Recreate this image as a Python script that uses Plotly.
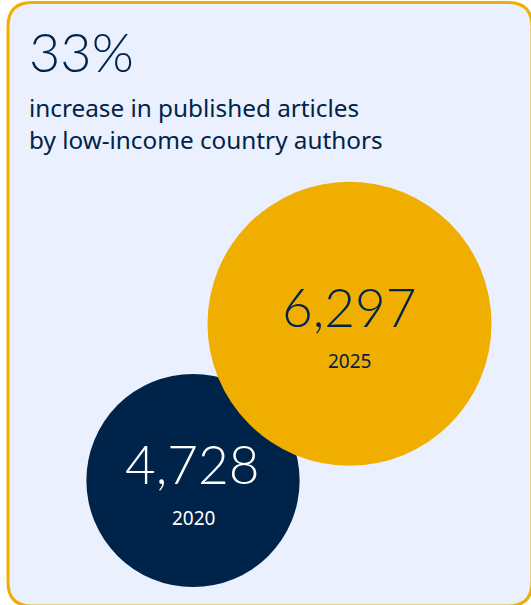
import plotly.graph_objects as go

# Data
years = ["2020", "2025"]
articles = [4728, 6297]
headline = "33%"
subtitle = "increase in published articles<br>by low-income country authors"

# Layout positions (pixels)
W, H = 531, 605
centers_x = [193, 349.5]
centers_y = [480.5, 323.7]
max_diameter = 284

navy = "#00234A"
yellow = "#F0AE00"
card_bg = "#EAF0FD"

fig = go.Figure()

sizeref = max(articles) / max_diameter
fig.add_trace(go.Scatter(
    x=centers_x, y=centers_y, mode="markers",
    marker=dict(size=articles, sizemode="diameter", sizeref=sizeref,
                color=[navy, yellow], line=dict(width=0), opacity=1),
    hoverinfo="skip", showlegend=False,
))

# Card background
x0, y0, x1, y1, r = 8, 2.5, 532, 606, 24
path = (f"M {x0},{y0+r} Q {x0},{y0} {x0+r},{y0} L {x1-r},{y0} Q {x1},{y0} {x1},{y0+r} "
        f"L {x1},{y1-r} Q {x1},{y1} {x1-r},{y1} L {x0+r},{y1} Q {x0},{y1} {x0},{y1-r} Z")
fig.add_shape(type="path", path=path, xref="x", yref="y", layer="below",
              fillcolor=card_bg, line=dict(color=yellow, width=3))

annotations = [
    dict(x=27, y=51, text=headline, xanchor="left", yanchor="middle",
         font=dict(family="Lato", size=54, color=navy, weight=300)),
    dict(x=26.5, y=123, text=subtitle, xanchor="left", yanchor="middle", align="left",
         font=dict(family="Noto Sans", size=24.3, color=navy)),
]
num_colors = ["#FFFFFF", navy]
for i in range(len(years)):
    annotations.append(dict(x=centers_x[i] - 0.5, y=centers_y[i] - 17.5, text=f"{articles[i]:,}",
                            xanchor="center", yanchor="middle",
                            font=dict(family="Lato", size=53, color=num_colors[i], weight=300)))
    annotations.append(dict(x=centers_x[i], y=centers_y[i] + 37, text=years[i],
                            xanchor="center", yanchor="middle",
                            font=dict(family="Noto Sans", size=19, color=num_colors[i])))
for a in annotations:
    a.update(xref="x", yref="y", showarrow=False)
fig.update_layout(annotations=annotations)

fig.update_layout(
    width=W, height=H, margin=dict(l=0, r=0, t=0, b=0),
    paper_bgcolor="white", plot_bgcolor="rgba(0,0,0,0)",
    xaxis=dict(range=[0, W], visible=False, fixedrange=True),
    yaxis=dict(range=[H, 0], visible=False, fixedrange=True),
    showlegend=False,
)

fig.write_html("out.html", config={"displayModeBar": False})
